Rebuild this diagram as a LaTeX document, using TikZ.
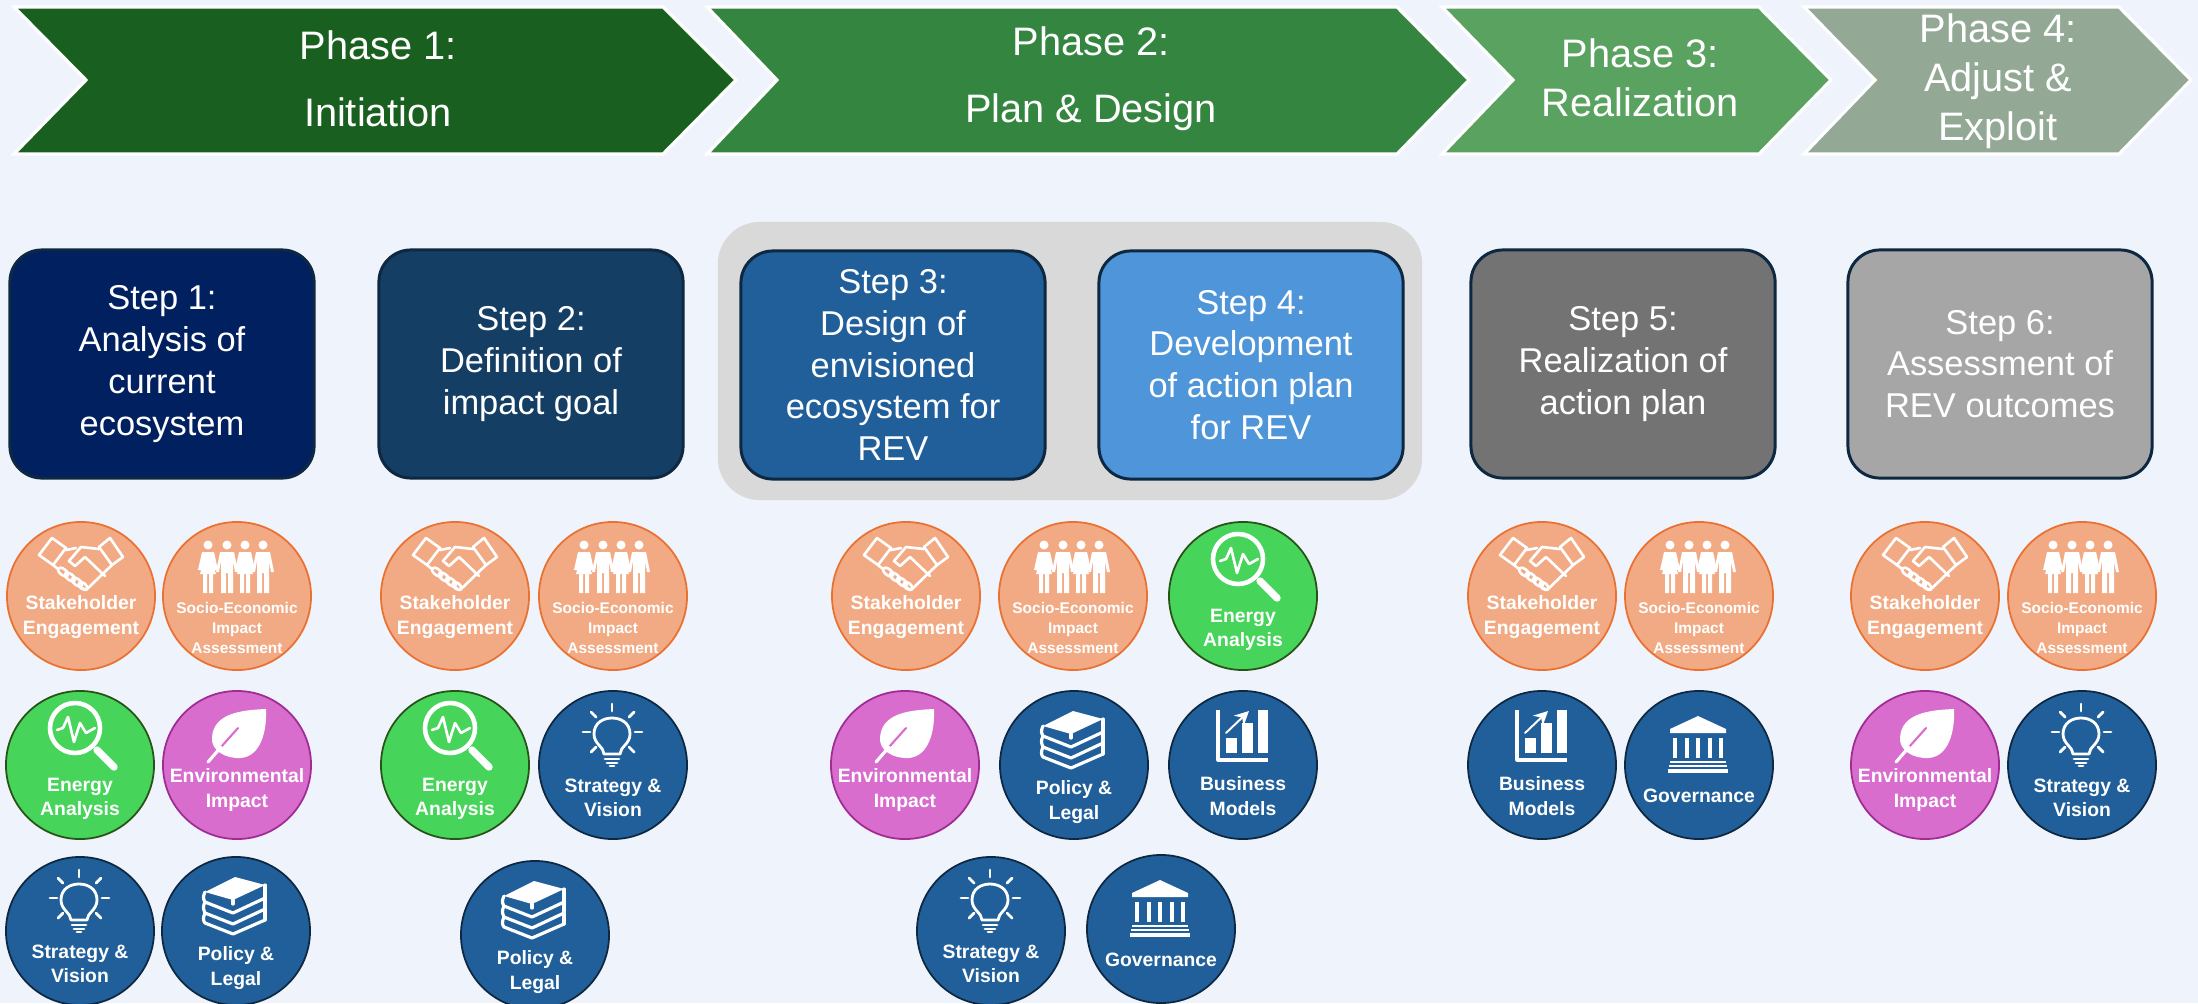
\documentclass[tikz,border=0pt]{standalone}
\usepackage{fontspec}
\setmainfont{Liberation Sans}
\usetikzlibrary{arrows.meta}

\definecolor{pagebg}{HTML}{EFF3FB}
\definecolor{edgedark}{HTML}{0E2841}
\definecolor{coralfill}{HTML}{F2AA84}
\definecolor{coraledge}{HTML}{E97132}
\definecolor{greenfill}{HTML}{47D45A}
\definecolor{greenedge}{HTML}{275317}
\definecolor{plumfill}{HTML}{D86DCD}
\definecolor{plumedge}{HTML}{A02B93}
\definecolor{navyfill}{HTML}{215F9A}
\definecolor{phaseA}{HTML}{196020}
\definecolor{phaseB}{HTML}{348540}
\definecolor{phaseC}{HTML}{5AA25F}
\definecolor{phaseD}{HTML}{93A995}
\definecolor{stepA}{HTML}{002060}
\definecolor{stepB}{HTML}{153E64}
\definecolor{stepD}{HTML}{4E95D9}
\definecolor{stepE}{HTML}{737373}
\definecolor{stepF}{HTML}{A6A6A6}

\begin{document}
\begin{tikzpicture}[x=0.01cm, y=-0.01cm, >=Stealth, line cap=round, line join=round]
		
		%======================
		% STYLES
		%======================
		\tikzset{
			phasebar/.style={draw=white, line width=0.9pt, line join=miter},
			phasetext/.style={text=white, align=center, inner sep=0pt},
			stepbox/.style={draw=edgedark, line width=0.85pt, rounded corners=0.32cm, text=white, align=center,
				minimum width=3.04cm, minimum height=2.28cm, inner sep=0pt,
				font=\fontsize{9.8}{11.9}\selectfont},
			groupbox/.style={fill=black!15, rounded corners=0.42cm, minimum width=7.04cm, minimum height=2.78cm},
			badge/.style={circle, line width=0.5pt, minimum size=1.48cm, inner sep=0pt},
			coralbadge/.style={badge, fill=coralfill, draw=coraledge},
			greenbadge/.style={badge, fill=greenfill, draw=greenedge},
			plumbadge/.style={badge, fill=plumfill, draw=plumedge},
			navybadge/.style={badge, fill=navyfill, draw=edgedark},
			badgetext/.style={text=white, align=center, inner sep=0pt,
				font=\fontsize{5.5}{7}\selectfont\bfseries},
			tinytext/.style={text=white, align=center, inner sep=0pt,
				font=\fontsize{4.4}{5.7}\selectfont\bfseries},
			iconline/.style={draw=white, line width=0.75pt},
			iconfill/.style={fill=white, draw=none}
		}
		
		%======================
		% ICONS (local pixels, circle centre = origin)
		%======================
		\newcommand{\iconshake}{
			\draw[iconline] (-42,-41) -- (-29,-58) -- (-15,-48) -- (-28,-31) -- cycle;
			\draw[iconline] (42,-39) -- (29,-58) -- (18,-49) -- (31,-31) -- cycle;
			\draw[iconline] (18,-47) -- (0,-49) -- (-12,-35) -- (-6,-30) -- (4,-39) -- (24,-20);
			\draw[iconline] (-15,-46) -- (-5,-48);
			\draw[iconline] (31,-31) -- (5,-6) -- (-1,-9);
			\draw[iconline] (-28,-31) -- (-23,-27);
			\draw[iconline] (-18,-24) ellipse [x radius=6, y radius=3, rotate=-38];
			\draw[iconline] (-11,-19) ellipse [x radius=6, y radius=3, rotate=-38];
			\draw[iconline] (-4,-14) ellipse [x radius=6, y radius=3, rotate=-38];
			\draw[iconline] (2,-10) ellipse [x radius=5, y radius=3, rotate=-38];
		}
		\newcommand{\iconman}[1]{
			\fill[iconfill] (#1,-51) circle [radius=4.5];
			\fill[iconfill] (#1-7,-44) -- (#1+7,-44) -- (#1+11,-24) -- (#1+8,-24) -- (#1+6,-35) -- (#1+6,-3)
				-- (#1+1,-3) -- (#1+1,-23) -- (#1-1,-23) -- (#1-1,-3) -- (#1-6,-3) -- (#1-6,-35) -- (#1-8,-24) -- (#1-11,-24) -- cycle;
		}
		\newcommand{\iconwoman}[1]{
			\fill[iconfill] (#1,-51) circle [radius=4.5];
			\fill[iconfill] (#1-6,-44) -- (#1+6,-44) -- (#1+10,-26) -- (#1+7,-26) -- (#1+4,-36) -- (#1+8,-22)
				-- (#1+5,-22) -- (#1+5,-3) -- (#1+1,-3) -- (#1+1,-22) -- (#1-1,-22) -- (#1-1,-3) -- (#1-5,-3) -- (#1-5,-22) -- (#1-8,-22)
				-- (#1-4,-36) -- (#1-7,-26) -- (#1-10,-26) -- cycle;
		}
		\newcommand{\iconpeople}{
			\iconwoman{-29}
			\iconman{-10}
			\iconwoman{8}
			\iconman{26}
		}
		\newcommand{\iconlens}{
			\draw[white, line width=1.3pt] (-5,-37) circle [radius=25];
			\draw[white, line width=2.1pt] (17,-15) -- (34,2);
			\draw[iconline] (-23,-35) -- (-17,-37) -- (-12,-48) -- (-6,-23) -- (0,-42) -- (6,-32) -- (15,-37);
		}
		\newcommand{\iconleaf}{
			\fill[iconfill] (29,-56) .. controls (5,-55) and (-24,-52) .. (-25,-27)
				.. controls (-26,-15) and (-12,-6) .. (4,-7) .. controls (24,-9) and (30,-34) .. (29,-56) -- cycle;
			\draw[plumfill, line width=0.6pt] (-16,-18) -- (1,-37);
			\draw[white, line width=0.9pt] (-29,-3) -- (-16,-18);
		}
		\newcommand{\iconbulb}{
			\draw[white, line width=0.8pt] (-9,-11) .. controls (-9,-18) and (-19,-21) .. (-19,-31)
				.. controls (-19,-42) and (-10,-47) .. (-1,-47) .. controls (8,-47) and (17,-42) .. (17,-31)
				.. controls (17,-21) and (7,-18) .. (7,-11) -- cycle;
			\draw[white, line width=0.8pt] (-1,-61) -- (-1,-54);
			\draw[white, line width=0.8pt] (-30,-33) -- (-23,-33);
			\draw[white, line width=0.8pt] (22,-33) -- (29,-33);
			\draw[white, line width=0.8pt] (-22,-53) -- (-17,-48);
			\draw[white, line width=0.8pt] (21,-53) -- (16,-48);
			\draw[white, line width=0.8pt] (-22,-13) -- (-17,-18);
			\draw[white, line width=0.8pt] (21,-13) -- (16,-18);
			\draw[white, line width=0.8pt] (-8,-6) -- (6,-6);
			\draw[white, line width=0.8pt] (-6,-2) -- (4,-2);
			\draw[white, line width=0.8pt] (-3,1) -- (1,1);
		}
		\newcommand{\iconbooks}{
			\fill[iconfill] (-31,-39) -- (-1,-54) -- (29,-46) -- (-3,-31) -- cycle;
			\draw[white, line width=0.9pt] (-31,-39) .. controls (-33,-35) and (-33,-32) .. (-31,-29) -- (-3,-18) -- (29,-33);
			\draw[white, line width=0.9pt] (-31,-29) .. controls (-33,-25) and (-33,-22) .. (-31,-18) -- (-3,-7) -- (29,-22);
			\draw[white, line width=0.9pt] (-31,-18) .. controls (-33,-14) and (-33,-10) .. (-31,-8) -- (-3,3) -- (29,-11);
			\draw[white, line width=0.9pt] (29,-46) -- (29,-11);
			\draw[white, line width=0.9pt] (-3,-31) -- (-3,-27);
		}
		\newcommand{\iconchart}{
			\draw[white, line width=0.9pt, line cap=butt] (-25,-55) -- (-25,-5) -- (25,-5);
			\fill[iconfill] (-17,-27) rectangle (-6,-12);
			\fill[iconfill] (-1,-42) rectangle (10,-12);
			\fill[iconfill] (15,-55) rectangle (25,-12);
			\draw[white, line width=0.55pt, -{Stealth[length=4pt, width=4pt]}] (-17,-32) -- (6,-54);
		}
		\newcommand{\iconhall}{
			\fill[iconfill] (-29,-36) -- (-1,-49) -- (27,-36) -- (27,-32) -- (-29,-32) -- cycle;
			\draw[white, line width=1.3pt, line cap=butt] (-24,-27) -- (-24,-7);
			\draw[white, line width=1.3pt, line cap=butt] (-12,-27) -- (-12,-7);
			\draw[white, line width=1.3pt, line cap=butt] (-1,-27) -- (-1,-7);
			\draw[white, line width=1.3pt, line cap=butt] (11,-27) -- (11,-7);
			\draw[white, line width=1.3pt, line cap=butt] (22,-27) -- (22,-7);
			\draw[white, line width=0.7pt, line cap=butt] (-29,-3) -- (27,-3);
			\draw[white, line width=0.9pt, line cap=butt] (-31,6) -- (29,6);
			\draw[white, line width=0.5pt, line cap=butt] (-30,1) -- (28,1);
		}
		
		% Utility: one badge per skill, #1=name, (#2,#3)=centre
		\newcommand{\badgeSE}[3]{
			\node[coralbadge] (#1) at (#2,#3) {};
			\begin{scope}[shift={(#2,#3)}] \iconshake \end{scope}
			\node[badgetext] (#1text) at (#2,#3+21) {Stakeholder\\Engagement};
		}
		\newcommand{\badgeSI}[3]{
			\node[coralbadge] (#1) at (#2,#3) {};
			\begin{scope}[shift={(#2,#3)}] \iconpeople \end{scope}
			\node[tinytext] (#1text) at (#2,#3+32) {Socio-Economic\\Impact\\Assessment};
		}
		\newcommand{\badgeEA}[3]{
			\node[greenbadge] (#1) at (#2,#3) {};
			\begin{scope}[shift={(#2,#3)}] \iconlens \end{scope}
			\node[badgetext] (#1text) at (#2,#3+34) {Energy\\Analysis};
		}
		\newcommand{\badgeEI}[3]{
			\node[plumbadge] (#1) at (#2,#3) {};
			\begin{scope}[shift={(#2,#3)}] \iconleaf \end{scope}
			\node[badgetext] (#1text) at (#2,#3+25) {Environmental\\Impact};
		}
		\newcommand{\badgeSV}[3]{
			\node[navybadge] (#1) at (#2,#3) {};
			\begin{scope}[shift={(#2,#3)}] \iconbulb \end{scope}
			\node[badgetext] (#1text) at (#2,#3+33) {Strategy \&\\Vision};
		}
		\newcommand{\badgePL}[3]{
			\node[navybadge] (#1) at (#2,#3) {};
			\begin{scope}[shift={(#2,#3)}] \iconbooks \end{scope}
			\node[badgetext] (#1text) at (#2,#3+37) {Policy \&\\Legal};
		}
		\newcommand{\badgeBM}[3]{
			\node[navybadge] (#1) at (#2,#3) {};
			\begin{scope}[shift={(#2,#3)}] \iconchart \end{scope}
			\node[badgetext] (#1text) at (#2,#3+31) {Business\\Models};
		}
		\newcommand{\badgeGO}[3]{
			\node[navybadge] (#1) at (#2,#3) {};
			\begin{scope}[shift={(#2,#3)}] \iconhall \end{scope}
			\node[badgetext] (#1text) at (#2,#3+31) {Governance};
		}
		
		% Utility: phase arrow, #1=left, #2=notch, #3=top right, #4=tip, #5=colour
		\newcommand{\phasearrow}[5]{
			\draw[phasebar, fill=#5] (#1,7) -- (#3,7) -- (#4,80) -- (#3,154) -- (#1,154) -- (#2,80) -- cycle;
		}
		
		% page
		\fill[pagebg] (0,0) rectangle (2198,1003);
		\useasboundingbox (0,0) rectangle (2198,1003);
		
		%----------------------
		% Phases
		%----------------------
		\phasearrow{14}{86}{663}{736}{phaseA}
		\phasearrow{707}{777}{1397}{1469}{phaseB}
		\phasearrow{1442}{1513}{1759}{1831}{phaseC}
		\phasearrow{1804}{1875}{2119}{2191}{phaseD}
		
		\node[phasetext, font=\fontsize{11.3}{19}\selectfont] (phaseOne) at (378,79) {Phase 1:\\Initiation};
		\node[phasetext, font=\fontsize{11.3}{19}\selectfont] (phaseTwo) at (1091,79) {Phase 2:\\Plan \& Design};
		\node[phasetext, font=\fontsize{11.3}{13.9}\selectfont] (phaseThree) at (1640,78) {Phase 3:\\Realization};
		\node[phasetext, font=\fontsize{11.3}{13.9}\selectfont] (phaseFour) at (1998,81) {Phase 4:\\Adjust \&\\Exploit};
		
		%----------------------
		% Steps
		%----------------------
		\node[groupbox] (planGroup) at (1070,361) {};
		\node[stepbox, fill=stepA] (stepOne) at (162,364) {Step 1:\\Analysis of\\current\\ecosystem};
		\node[stepbox, fill=stepB] (stepTwo) at (531,364) {Step 2:\\Definition of\\impact goal};
		\node[stepbox, fill=navyfill] (stepThree) at (893,365) {Step 3:\\Design of\\envisioned\\ecosystem for\\REV};
		\node[stepbox, fill=stepD] (stepFour) at (1251,365) {Step 4:\\Development\\of action plan\\for REV};
		\node[stepbox, fill=stepE] (stepFive) at (1623,364) {Step 5:\\Realization of\\action plan};
		\node[stepbox, fill=stepF] (stepSix) at (2000,364) {Step 6:\\Assessment of\\REV outcomes};
		
		%----------------------
		% Badges below step 1
		%----------------------
		\badgeSE{aSE}{81}{596}
		\badgeSI{aSI}{237}{596}
		\badgeEA{aEA}{80}{765}
		\badgeEI{aEI}{237}{765}
		\badgeSV{aSV}{80}{931}
		\badgePL{aPL}{236}{931}
		
		%----------------------
		% Badges below step 2
		%----------------------
		\badgeSE{bSE}{455}{596}
		\badgeSI{bSI}{613}{596}
		\badgeEA{bEA}{455}{765}
		\badgeSV{bSV}{613}{765}
		\badgePL{bPL}{535}{935}
		
		%----------------------
		% Badges below steps 3 and 4
		%----------------------
		\badgeSE{cSE}{906}{596}
		\badgeSI{cSI}{1073}{596}
		\badgeEA{cEA}{1243}{596}
		\badgeEI{cEI}{905}{765}
		\badgePL{cPL}{1074}{765}
		\badgeBM{cBM}{1243}{765}
		\badgeSV{cSV}{991}{931}
		\badgeGO{cGO}{1161}{929}
		
		%----------------------
		% Badges below step 5
		%----------------------
		\badgeSE{eSE}{1542}{596}
		\badgeSI{eSI}{1699}{596}
		\badgeBM{eBM}{1542}{765}
		\badgeGO{eGO}{1699}{765}
		
		%----------------------
		% Badges below step 6
		%----------------------
		\badgeSE{fSE}{1925}{596}
		\badgeSI{fSI}{2082}{596}
		\badgeEI{fEI}{1925}{765}
		\badgeSV{fSV}{2082}{765}
		
	\end{tikzpicture}
\end{document}
